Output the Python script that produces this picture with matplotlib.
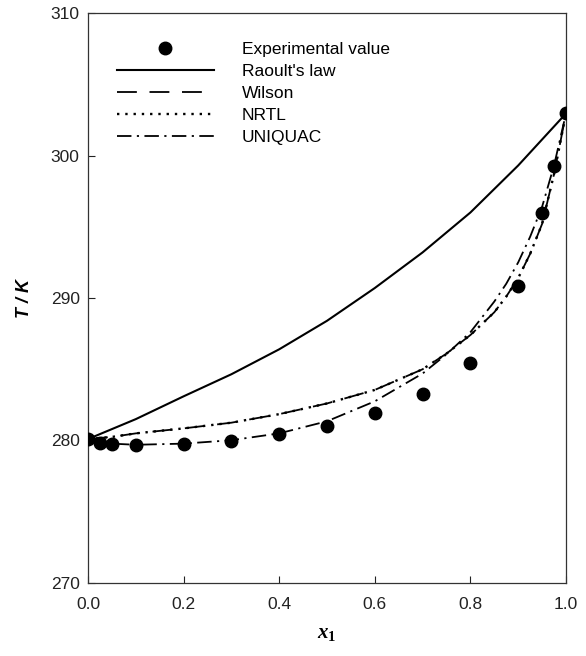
import matplotlib.pyplot as plt

plt.rcParams['font.family'] = ['Liberation Sans', 'DejaVu Sans']
plt.rcParams['mathtext.fontset'] = 'custom'
plt.rcParams['mathtext.it'] = 'Liberation Serif:italic:bold'
plt.rcParams['mathtext.rm'] = 'Liberation Serif:bold'

# Experimental points
x_exp = [0.0, 0.025, 0.05, 0.1, 0.2, 0.3, 0.4, 0.5, 0.6, 0.7, 0.8, 0.9, 0.95, 0.975, 1.0]
t_exp = [280.1, 279.85, 279.75, 279.65, 279.75, 279.95, 280.45, 281.05, 281.95,
         283.25, 285.45, 290.85, 295.95, 299.25, 302.95]

# Raoult's law
x_raoult = [0.0, 0.1, 0.2, 0.3, 0.4, 0.5, 0.6, 0.7, 0.8, 0.9, 1.0]
t_raoult = [280.1, 281.5, 283.1, 284.65, 286.4, 288.4, 290.7, 293.2, 296.0, 299.3, 302.95]

# Model curves
x_model = [0.0, 0.025, 0.05, 0.1, 0.2, 0.3, 0.4, 0.5, 0.6, 0.7, 0.75, 0.8, 0.85,
           0.875, 0.9, 0.925, 0.95, 0.975, 1.0]
t_wilson = [280.1, 280.18, 280.25, 280.5, 280.85, 281.25, 281.85, 282.6, 283.55,
            285.0, 286.1, 287.4, 289.0, 290.1, 291.4, 293.1, 295.2, 298.7, 302.95]
t_nrtl = [280.1, 280.18, 280.25, 280.5, 280.85, 281.25, 281.85, 282.6, 283.55,
          285.0, 286.1, 287.4, 289.0, 290.1, 291.4, 293.1, 295.2, 298.7, 302.95]
t_uniquac = [280.1, 279.88, 279.78, 279.7, 279.78, 280.02, 280.5, 281.35, 282.75,
             284.7, 286.05, 287.6, 289.75, 291.0, 292.5, 294.3, 296.4, 299.3, 302.95]

x_ticks = [0.0, 0.2, 0.4, 0.6, 0.8, 1.0]
y_ticks = [270, 280, 290, 300, 310]

fig = plt.figure(figsize=(5.86, 6.56), dpi=100)
ax = fig.add_axes([88 / 586, 1 - 583 / 656, 478 / 586, 570 / 656])

ax.plot(x_exp, t_exp, 'o', color='black', ms=9, label='Experimental value', zorder=5)
ax.plot(x_raoult, t_raoult, '-', color='black', lw=1.5, label="Raoult's law")
ax.plot(x_model, t_wilson, color='black', lw=1.3, dashes=(11, 7), label='Wilson')
ax.plot(x_model, t_nrtl, color='black', lw=1.7, dashes=(1, 2.5), label='NRTL')
ax.plot(x_model, t_uniquac, color='black', lw=1.3, dashes=(8, 3, 1.2, 3), label='UNIQUAC')

# Axis limits and ticks
ax.set_xlim(0, 1)
ax.set_ylim(270, 310)
ax.set_xticks(x_ticks)
ax.set_yticks(y_ticks)
ax.set_xticklabels(['%.1f' % v for v in x_ticks])
ax.tick_params(direction='in', length=5, width=0.8, labelsize=12.5, colors='#222222')
ax.tick_params(axis='x', pad=10)
ax.tick_params(axis='y', pad=6)
for sp in ax.spines.values():
    sp.set_linewidth(0.9)
    sp.set_color('#333333')

ax.set_ylabel('T / K', fontsize=13, fontweight='bold', fontstyle='italic')
ax.yaxis.set_label_coords(-0.115, 0.5)
ax.set_xlabel(r'$\mathit{x}_\mathit{1}$', fontsize=15)
ax.xaxis.set_label_coords(0.5, -0.072)

ax.legend(loc='upper left', bbox_to_anchor=(0.06, 0.95), frameon=False,
          fontsize=12.5, handlelength=5.6, handletextpad=1.6, labelspacing=0.4,
          borderpad=0, borderaxespad=0)

plt.savefig('out.png', dpi=100)
